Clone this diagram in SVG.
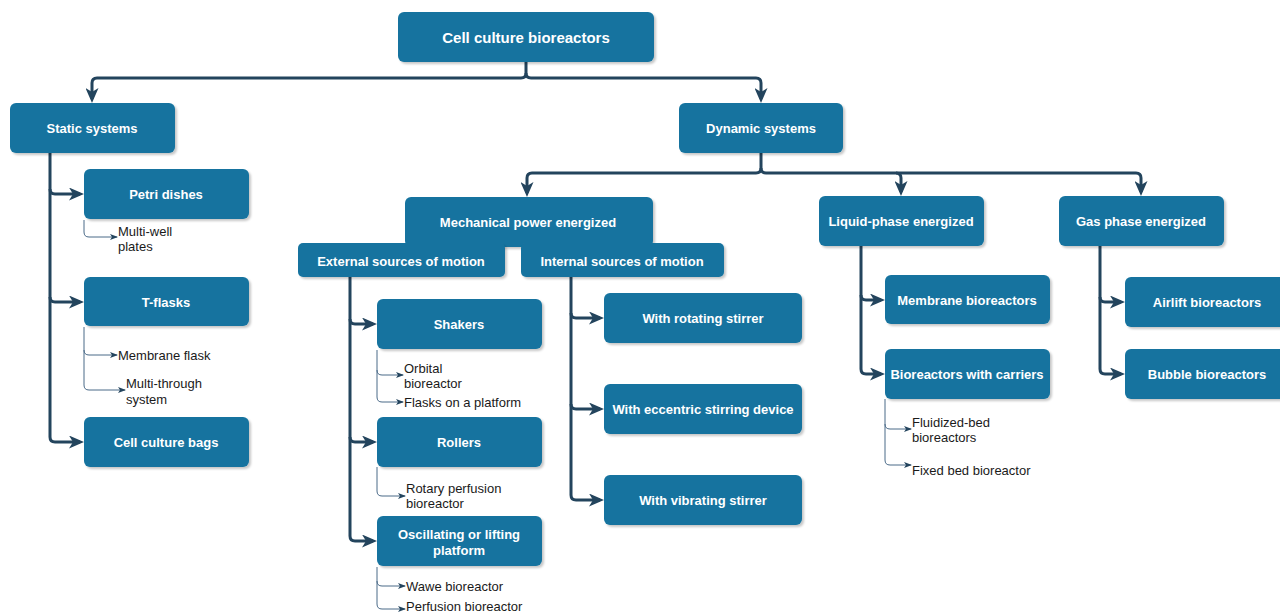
<svg xmlns="http://www.w3.org/2000/svg" width="1280" height="615" viewBox="0 0 1280 615">
<style>
.box{fill:#16739f;}
.lbl{fill:#ffffff;font-family:"Liberation Sans",Arial,sans-serif;font-weight:bold;font-size:13px;text-anchor:middle;dominant-baseline:central;}
.big{font-size:15px;}
.sub{fill:#1a1a1a;font-family:"Liberation Sans",Arial,sans-serif;font-size:13px;}
.main{fill:none;stroke:#23445d;stroke-width:3;marker-end:url(#ah);}
.thin{fill:none;stroke:#4a6a88;stroke-width:1;marker-end:url(#ahs);}
</style>
<defs>
<filter id="sh" x="-10%" y="-10%" width="130%" height="140%">
<feDropShadow dx="2" dy="2" stdDeviation="1" flood-color="#000" flood-opacity="0.22"/>
</filter>
<marker id="ah" viewBox="0 0 15 13" markerWidth="15" markerHeight="13" refX="11" refY="6.5" orient="auto" markerUnits="userSpaceOnUse">
<path d="M0,0 L15,6.5 L0,13 L4,6.5 Z" fill="#23445d"/>
</marker>
<marker id="ahs" viewBox="0 0 8 6" markerWidth="8" markerHeight="6" refX="7" refY="3" orient="auto" markerUnits="userSpaceOnUse">
<path d="M0,0 L8,3 L0,6 L2,3 Z" fill="#23445d"/>
</marker>
</defs>
<rect width="1280" height="615" fill="#ffffff"/>

<g id="connectors">
<path class="main" d="M526,62 V73 Q526,78 521,78 H97 Q92,78 92,83 V99"/>
<path class="main" d="M526,73 Q526,78 531,78 H756 Q761,78 761,83 V99"/>
<path class="main" d="M50,153 V437 Q50,442 55,442 H80"/>
<path class="main" d="M50,189 Q50,194 55,194 H80"/>
<path class="main" d="M50,297 Q50,302 55,302 H80"/>
<path class="main" d="M761,153 V168 Q761,173 756,173 H532 Q527,173 527,178 V193"/>
<path class="main" d="M761,168 Q761,173 766,173 H896 Q901,173 901,178 V192"/>
<path class="main" d="M896,173 H1136 Q1141,173 1141,178 V192"/>
<path class="main" d="M350,277 V536 Q350,541 355,541 H373"/>
<path class="main" d="M350,319 Q350,324 355,324 H373"/>
<path class="main" d="M350,437 Q350,442 355,442 H373"/>
<path class="main" d="M571,277 V495 Q571,500 576,500 H600"/>
<path class="main" d="M571,313 Q571,318 576,318 H600"/>
<path class="main" d="M571,404 Q571,409 576,409 H600"/>
<path class="main" d="M861,246 V369 Q861,374 866,374 H881"/>
<path class="main" d="M861,295 Q861,300 866,300 H881"/>
<path class="main" d="M1100,246 V369 Q1100,374 1105,374 H1121"/>
<path class="main" d="M1100,297 Q1100,302 1105,302 H1121"/>
<path class="thin" d="M84,220 V232 Q84,237 89,237 H117"/>
<path class="thin" d="M84,327 V350 Q84,355 89,355 H117"/>
<path class="thin" d="M84,350 V385 Q84,390 89,390 H125"/>
<path class="thin" d="M377,350 V370 Q377,375 382,375 H403"/>
<path class="thin" d="M377,370 V397 Q377,402 382,402 H403"/>
<path class="thin" d="M377,467 V491 Q377,496 382,496 H405"/>
<path class="thin" d="M377,567 V581 Q377,586 382,586 H405"/>
<path class="thin" d="M377,581 V604 Q377,609 382,609 H405"/>
<path class="thin" d="M885,399 V424 Q885,429 890,429 H911"/>
<path class="thin" d="M885,424 V460 Q885,465 890,465 H911"/>
</g>

<g id="n-root"><rect class="box" x="398" y="12" width="256" height="50" rx="6" filter="url(#sh)"/><text class="lbl big" x="526" y="37">Cell culture bioreactors</text></g>
<g id="n-static"><rect class="box" x="10" y="103" width="165" height="50" rx="6" filter="url(#sh)"/><text class="lbl" x="92" y="128">Static systems</text></g>
<g id="n-dynamic"><rect class="box" x="679" y="103" width="164" height="50" rx="6" filter="url(#sh)"/><text class="lbl" x="761" y="128">Dynamic systems</text></g>

<g id="n-petri"><rect class="box" x="84" y="169" width="165" height="50" rx="6" filter="url(#sh)"/><text class="lbl" x="166" y="194">Petri dishes</text></g>
<g id="t-multiwell"><text class="sub" x="118" y="236">Multi-well</text><text class="sub" x="118" y="251">plates</text></g>
<g id="n-tflasks"><rect class="box" x="84" y="277" width="165" height="49" rx="6" filter="url(#sh)"/><text class="lbl" x="166" y="302">T-flasks</text></g>
<g id="t-membraneflask"><text class="sub" x="118" y="360">Membrane flask</text></g>
<g id="t-multithrough"><text class="sub" x="126" y="388">Multi-through</text><text class="sub" x="126" y="404">system</text></g>
<g id="n-bags"><rect class="box" x="84" y="417" width="165" height="50" rx="6" filter="url(#sh)"/><text class="lbl" x="166" y="442">Cell culture bags</text></g>

<g id="n-mech"><rect class="box" x="405" y="197" width="248" height="50" rx="6" filter="url(#sh)"/><text class="lbl" x="528" y="222">Mechanical power energized</text></g>
<g id="n-external"><rect class="box" x="298" y="243" width="207" height="34" rx="5" filter="url(#sh)"/><text class="lbl" x="401" y="261">External sources of motion</text></g>
<g id="n-internal"><rect class="box" x="521" y="243" width="203" height="34" rx="5" filter="url(#sh)"/><text class="lbl" x="622" y="261">Internal sources of motion</text></g>

<g id="n-shakers"><rect class="box" x="377" y="299" width="165" height="50" rx="6" filter="url(#sh)"/><text class="lbl" x="459" y="324">Shakers</text></g>
<g id="t-orbital"><text class="sub" x="404" y="373">Orbital</text><text class="sub" x="404" y="388">bioreactor</text></g>
<g id="t-flasks"><text class="sub" x="404" y="407">Flasks on a platform</text></g>
<g id="n-rollers"><rect class="box" x="377" y="417" width="165" height="50" rx="6" filter="url(#sh)"/><text class="lbl" x="459" y="442">Rollers</text></g>
<g id="t-rotary"><text class="sub" x="406" y="493">Rotary perfusion</text><text class="sub" x="406" y="508">bioreactor</text></g>
<g id="n-osc"><rect class="box" x="377" y="516" width="165" height="50" rx="6" filter="url(#sh)"/><text class="lbl" x="459" y="534">Oscillating or lifting</text><text class="lbl" x="459" y="550">platform</text></g>
<g id="t-wawe"><text class="sub" x="406" y="591">Wawe bioreactor</text></g>
<g id="t-perfusion"><text class="sub" x="406" y="611">Perfusion bioreactor</text></g>

<g id="n-rotating"><rect class="box" x="604" y="293" width="198" height="50" rx="6" filter="url(#sh)"/><text class="lbl" x="703" y="318">With rotating stirrer</text></g>
<g id="n-eccentric"><rect class="box" x="604" y="384" width="198" height="50" rx="6" filter="url(#sh)"/><text class="lbl" x="703" y="409">With eccentric stirring device</text></g>
<g id="n-vibrating"><rect class="box" x="604" y="475" width="198" height="50" rx="6" filter="url(#sh)"/><text class="lbl" x="703" y="500">With vibrating stirrer</text></g>

<g id="n-liquid"><rect class="box" x="819" y="196" width="165" height="50" rx="6" filter="url(#sh)"/><text class="lbl" x="901" y="221">Liquid-phase energized</text></g>
<g id="n-membrane"><rect class="box" x="885" y="275" width="165" height="49" rx="6" filter="url(#sh)"/><text class="lbl" x="967" y="300">Membrane bioreactors</text></g>
<g id="n-carriers"><rect class="box" x="885" y="349" width="165" height="50" rx="6" filter="url(#sh)"/><text class="lbl" x="967" y="374">Bioreactors with carriers</text></g>
<g id="t-fluidized"><text class="sub" x="912" y="427">Fluidized-bed</text><text class="sub" x="912" y="442">bioreactors</text></g>
<g id="t-fixed"><text class="sub" x="912" y="475">Fixed bed bioreactor</text></g>

<g id="n-gas"><rect class="box" x="1059" y="196" width="165" height="50" rx="6" filter="url(#sh)"/><text class="lbl" x="1141" y="221">Gas phase energized</text></g>
<g id="n-airlift"><rect class="box" x="1125" y="277" width="165" height="50" rx="6" filter="url(#sh)"/><text class="lbl" x="1207" y="302">Airlift bioreactors</text></g>
<g id="n-bubble"><rect class="box" x="1125" y="349" width="165" height="50" rx="6" filter="url(#sh)"/><text class="lbl" x="1207" y="374">Bubble bioreactors</text></g>
</svg>
